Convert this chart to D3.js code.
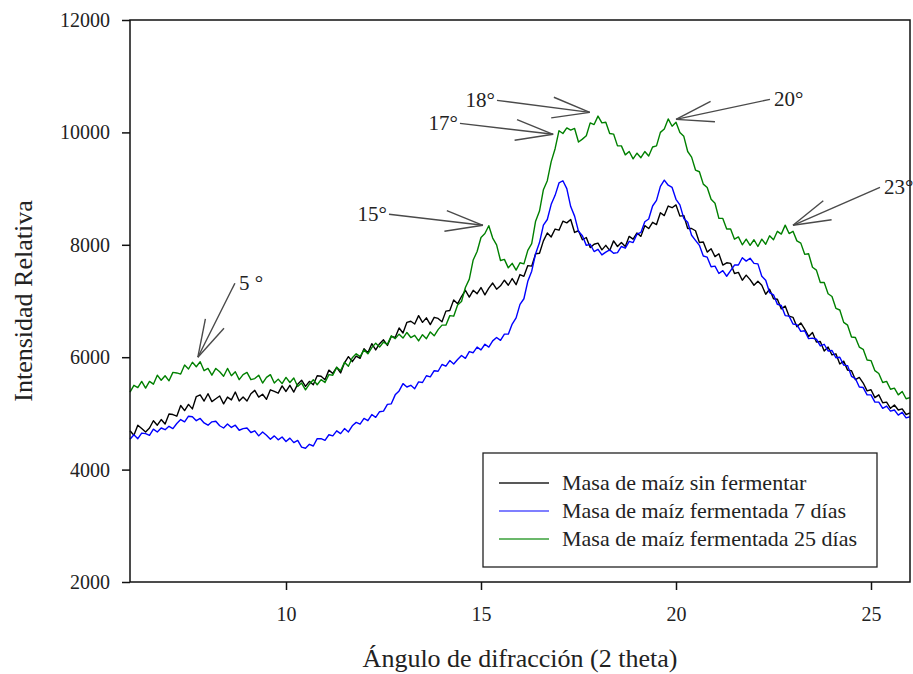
<!DOCTYPE html>
<head>
<meta charset="utf-8">
<title>Difraccion</title>
<script src="https://d3js.org/d3.v7.min.js"></script>
<style>
  body { margin: 0; background: #fff; }
  text { font-family: "Liberation Serif", "Times New Roman", serif; fill: #222; }
</style>
</head>
<body>
<div id="chart"></div>
<script>

// angulo 2 theta, de 6 a 26 cada 0.1
const angulos = d3.range(0, 201).map(i => +(6 + i * 0.1).toFixed(1));

const sinFermentar = [
  4690, 4610, 4790, 4730, 4670, 4740, 4870, 4790, 4890, 4810,
  4990, 4980, 4950, 5140, 5050, 5160, 5080, 5300, 5330, 5220,
  5350, 5210, 5260, 5310, 5170, 5290, 5240, 5380, 5220, 5290,
  5220, 5350, 5410, 5290, 5340, 5250, 5420, 5390, 5360, 5490,
  5390, 5500, 5380, 5520, 5590, 5480, 5570, 5510, 5670, 5660,
  5600, 5770, 5710, 5820, 5720, 5900, 6010, 5920, 6020, 5980,
  6150, 6080, 6240, 6130, 6240, 6310, 6210, 6370, 6350, 6520,
  6430, 6620, 6640, 6590, 6740, 6620, 6700, 6580, 6710, 6690,
  6630, 6820, 6830, 7020, 6950, 7080, 7190, 7070, 7190, 7130,
  7240, 7110, 7230, 7320, 7210, 7270, 7370, 7280, 7400, 7290,
  7470, 7440, 7630, 7620, 7840, 7850, 8070, 8210, 8140, 8280,
  8260, 8420, 8390, 8450, 8220, 8250, 8090, 8130, 7950, 8010,
  8030, 7910, 7990, 7900, 8070, 7970, 8040, 7970, 8150, 8100,
  8210, 8150, 8340, 8290, 8400, 8360, 8570, 8520, 8690, 8660,
  8710, 8510, 8520, 8290, 8290, 8250, 8040, 8050, 7870, 7930,
  7790, 7840, 7640, 7680, 7670, 7490, 7510, 7370, 7460, 7380,
  7280, 7350, 7280, 7120, 7210, 7040, 7030, 6860, 6910, 6730,
  6710, 6540, 6610, 6500, 6370, 6440, 6270, 6280, 6110, 6180,
  6040, 6060, 5880, 5930, 5770, 5760, 5600, 5640, 5540, 5400,
  5420, 5280, 5330, 5190, 5200, 5090, 5150, 5060, 5080, 4980,
  5010
];

const fermentada7 = [
  4540, 4620, 4550, 4650, 4640, 4610, 4720, 4670, 4740, 4710,
  4770, 4730, 4820, 4890, 4850, 4950, 4940, 4870, 4910, 4830,
  4790, 4850, 4860, 4780, 4740, 4810, 4750, 4790, 4700, 4730,
  4740, 4660, 4690, 4600, 4670, 4610, 4540, 4600, 4530, 4580,
  4500, 4560, 4480, 4520, 4400, 4380, 4450, 4420, 4550, 4550,
  4520, 4620, 4600, 4690, 4640, 4730, 4670, 4780, 4840, 4810,
  4910, 4870, 4980, 4930, 5030, 5040, 5160, 5170, 5330, 5400,
  5530, 5470, 5500, 5440, 5560, 5550, 5670, 5650, 5760, 5750,
  5870, 5840, 5940, 5880, 5960, 6030, 5980, 6100, 6080, 6180,
  6130, 6230, 6180, 6290, 6350, 6300, 6410, 6410, 6590, 6700,
  6940, 7040, 7350, 7530, 7840, 8040, 8350, 8450, 8720, 8880,
  9100, 9140, 9000, 8680, 8510, 8240, 8160, 7990, 8010, 7880,
  7920, 7820, 7870, 7910, 7850, 7860, 7970, 7940, 8060, 8040,
  8190, 8220, 8410, 8460, 8690, 8790, 9040, 9150, 9060, 9020,
  8810, 8710, 8470, 8400, 8170, 8080, 7990, 7800, 7780, 7610,
  7620, 7490, 7540, 7440, 7540, 7640, 7640, 7770, 7710, 7760,
  7670, 7660, 7440, 7370, 7150, 7110, 6940, 6920, 6740, 6730,
  6590, 6580, 6460, 6470, 6330, 6340, 6320, 6200, 6230, 6110,
  6120, 5990, 6000, 5860, 5850, 5660, 5620, 5470, 5460, 5330,
  5330, 5200, 5200, 5090, 5130, 5040, 5060, 4970, 5020, 4920,
  4940
];

const fermentada25 = [
  5380, 5500, 5460, 5570, 5450, 5570, 5520, 5680, 5590, 5670,
  5580, 5730, 5720, 5700, 5860, 5790, 5910, 5830, 5920, 5760,
  5800, 5680, 5800, 5740, 5660, 5800, 5670, 5740, 5600, 5690,
  5730, 5600, 5620, 5680, 5540, 5640, 5690, 5540, 5610, 5530,
  5640, 5550, 5630, 5480, 5540, 5420, 5520, 5600, 5510, 5600,
  5550, 5690, 5680, 5820, 5760, 5910, 5840, 5990, 6060, 6010,
  6130, 6060, 6170, 6250, 6180, 6270, 6230, 6380, 6330, 6410,
  6340, 6440, 6350, 6390, 6290, 6400, 6330, 6450, 6380, 6490,
  6570, 6570, 6740, 6730, 6930, 6990, 7240, 7390, 7730, 7880,
  8130, 8200, 8340, 8120, 8000, 7720, 7740, 7590, 7670, 7550,
  7680, 7660, 7900, 8020, 8420, 8600, 8980, 9140, 9480, 9710,
  10030, 9980, 10080, 10040, 10070, 9830, 9880, 9940, 10170, 10140,
  10290, 10170, 10180, 9980, 9970, 9760, 9760, 9600, 9660, 9530,
  9630, 9550, 9660, 9580, 9740, 9760, 10000, 10060, 10240, 10110,
  10180, 10000, 9930, 9660, 9560, 9330, 9300, 9080, 9020, 8810,
  8740, 8470, 8470, 8280, 8280, 8100, 8140, 8000, 8100, 7990,
  8090, 7970, 8100, 8010, 8160, 8090, 8240, 8190, 8350, 8200,
  8240, 8070, 8030, 7830, 7840, 7600, 7550, 7330, 7330, 7130,
  7080, 6870, 6840, 6620, 6570, 6360, 6350, 6180, 6140, 5950,
  5940, 5760, 5710, 5550, 5570, 5430, 5450, 5330, 5390, 5260,
  5280
];

const nombres = ["Masa de maíz sin fermentar", "Masa de maíz fermentada 7 días", "Masa de maíz fermentada 25 días"];
const colores = ["#000000", "#0000ff", "#008000"];
const coloresLeyenda = ["#222222", "#5555ff", "#3aa03a"];

const xTicks = [10, 15, 20, 25];
const yTicks = [2000, 4000, 6000, 8000, 10000, 12000];

// flechas: punta y cola en unidades del grafico
const etiquetas = ["5 °", "15°", "17°", "18°", "20°", "23°"];
const puntas = [[7.74, 6000], [15.05, 8347], [16.85, 9966], [17.79, 10356], [20.0, 10232], [23.0, 8347]];
const colas = [[8.69, 7316], [12.64, 8543], [14.46, 10161], [15.41, 10570], [22.41, 10588], [25.23, 9023]];
const anclas = ["start", "end", "end", "end", "start", "start"];

const W = 913, H = 674;
const margin = {left: 130, right: 3, top: 20, bottom: 92};

function CreateSVG() {
  return d3.select("#chart").append("svg")
    .attr("width", W)
    .attr("height", H);
}

function drawChart(svg) {
  const x = d3.scaleLinear().domain([6, 26]).range([margin.left, W - margin.right]);
  const y = d3.scaleLinear().domain([2000, 12000]).range([H - margin.bottom, margin.top]);

  // ejes
  const ax = svg.append("g")
    .attr("transform", `translate(0,${H - margin.bottom})`)
    .call(d3.axisBottom(x).tickValues(xTicks).tickSize(8).tickSizeOuter(0).tickPadding(17));
  const ay = svg.append("g")
    .attr("transform", `translate(${margin.left},0)`)
    .call(d3.axisLeft(y).tickValues(yTicks).tickFormat(d3.format("d")).tickSize(8).tickSizeOuter(0).tickPadding(12));
  [ax, ay].forEach(g => {
    g.select(".domain").remove();
    g.selectAll("line").attr("stroke", "#111").attr("stroke-width", 1.5);
    g.selectAll("text").attr("font-size", 20).attr("fill", "#222")
      .attr("font-family", '"Liberation Serif", "Times New Roman", serif');
  });

  const line = d3.line().x((d, i) => x(angulos[i])).y(d => y(d));
  [sinFermentar, fermentada7, fermentada25].forEach((serie, k) => {
    svg.append("path")
      .datum(serie)
      .attr("fill", "none")
      .attr("stroke", colores[k])
      .attr("stroke-width", 1.4)
      .attr("stroke-linejoin", "round")
      .attr("d", line);
  });

  // marco
  svg.append("rect")
    .attr("x", x(6)).attr("y", y(12000))
    .attr("width", x(26) - x(6)).attr("height", y(2000) - y(12000))
    .attr("fill", "none").attr("stroke", "#111").attr("stroke-width", 1.5);

  // flechas
  puntas.forEach((p, i) => {
    const tx = x(p[0]), ty = y(p[1]);
    const cx = x(colas[i][0]), cy = y(colas[i][1]);
    const ang = Math.atan2(cy - ty, cx - tx);
    const g = svg.append("g").attr("stroke", "#4a4a4a").attr("stroke-width", 1.4).attr("fill", "none");
    g.append("line").attr("x1", cx).attr("y1", cy).attr("x2", tx).attr("y2", ty);
    [-0.27, 0.27].forEach(a => {
      g.append("line")
        .attr("x1", tx).attr("y1", ty)
        .attr("x2", tx + 39 * Math.cos(ang + a))
        .attr("y2", ty + 39 * Math.sin(ang + a));
    });
    svg.append("text")
      .attr("x", anclas[i] == "end" ? cx - 2 : cx + 4)
      .attr("y", cy + 7)
      .attr("text-anchor", anclas[i])
      .attr("font-size", 21)
      .text(etiquetas[i]);
  });

  // leyenda
  const leg = svg.append("g").attr("transform", "translate(483,453)");
  leg.append("rect").attr("width", 394).attr("height", 114)
    .attr("fill", "#fff").attr("stroke", "#222").attr("stroke-width", 1.3);
  nombres.forEach((n, i) => {
    const yy = 30 + i * 28;
    leg.append("line").attr("x1", 16).attr("x2", 66).attr("y1", yy).attr("y2", yy)
      .attr("stroke", coloresLeyenda[i]).attr("stroke-width", 1.3);
    leg.append("text").attr("x", 79).attr("y", yy + 7).attr("font-size", 22).text(n);
  });

  // titulos
  svg.append("text")
    .attr("x", (x(6) + x(26)) / 2).attr("y", 667)
    .attr("text-anchor", "middle").attr("font-size", 26)
    .text("Ángulo de difracción (2 theta)");
  svg.append("text")
    .attr("transform", `translate(32,${(y(2000) + y(12000)) / 2}) rotate(-90)`)
    .attr("text-anchor", "middle").attr("font-size", 26)
    .text("Intensidad Relativa");
}

let svg = CreateSVG();
drawChart(svg);
</script>
</body>
</html>
